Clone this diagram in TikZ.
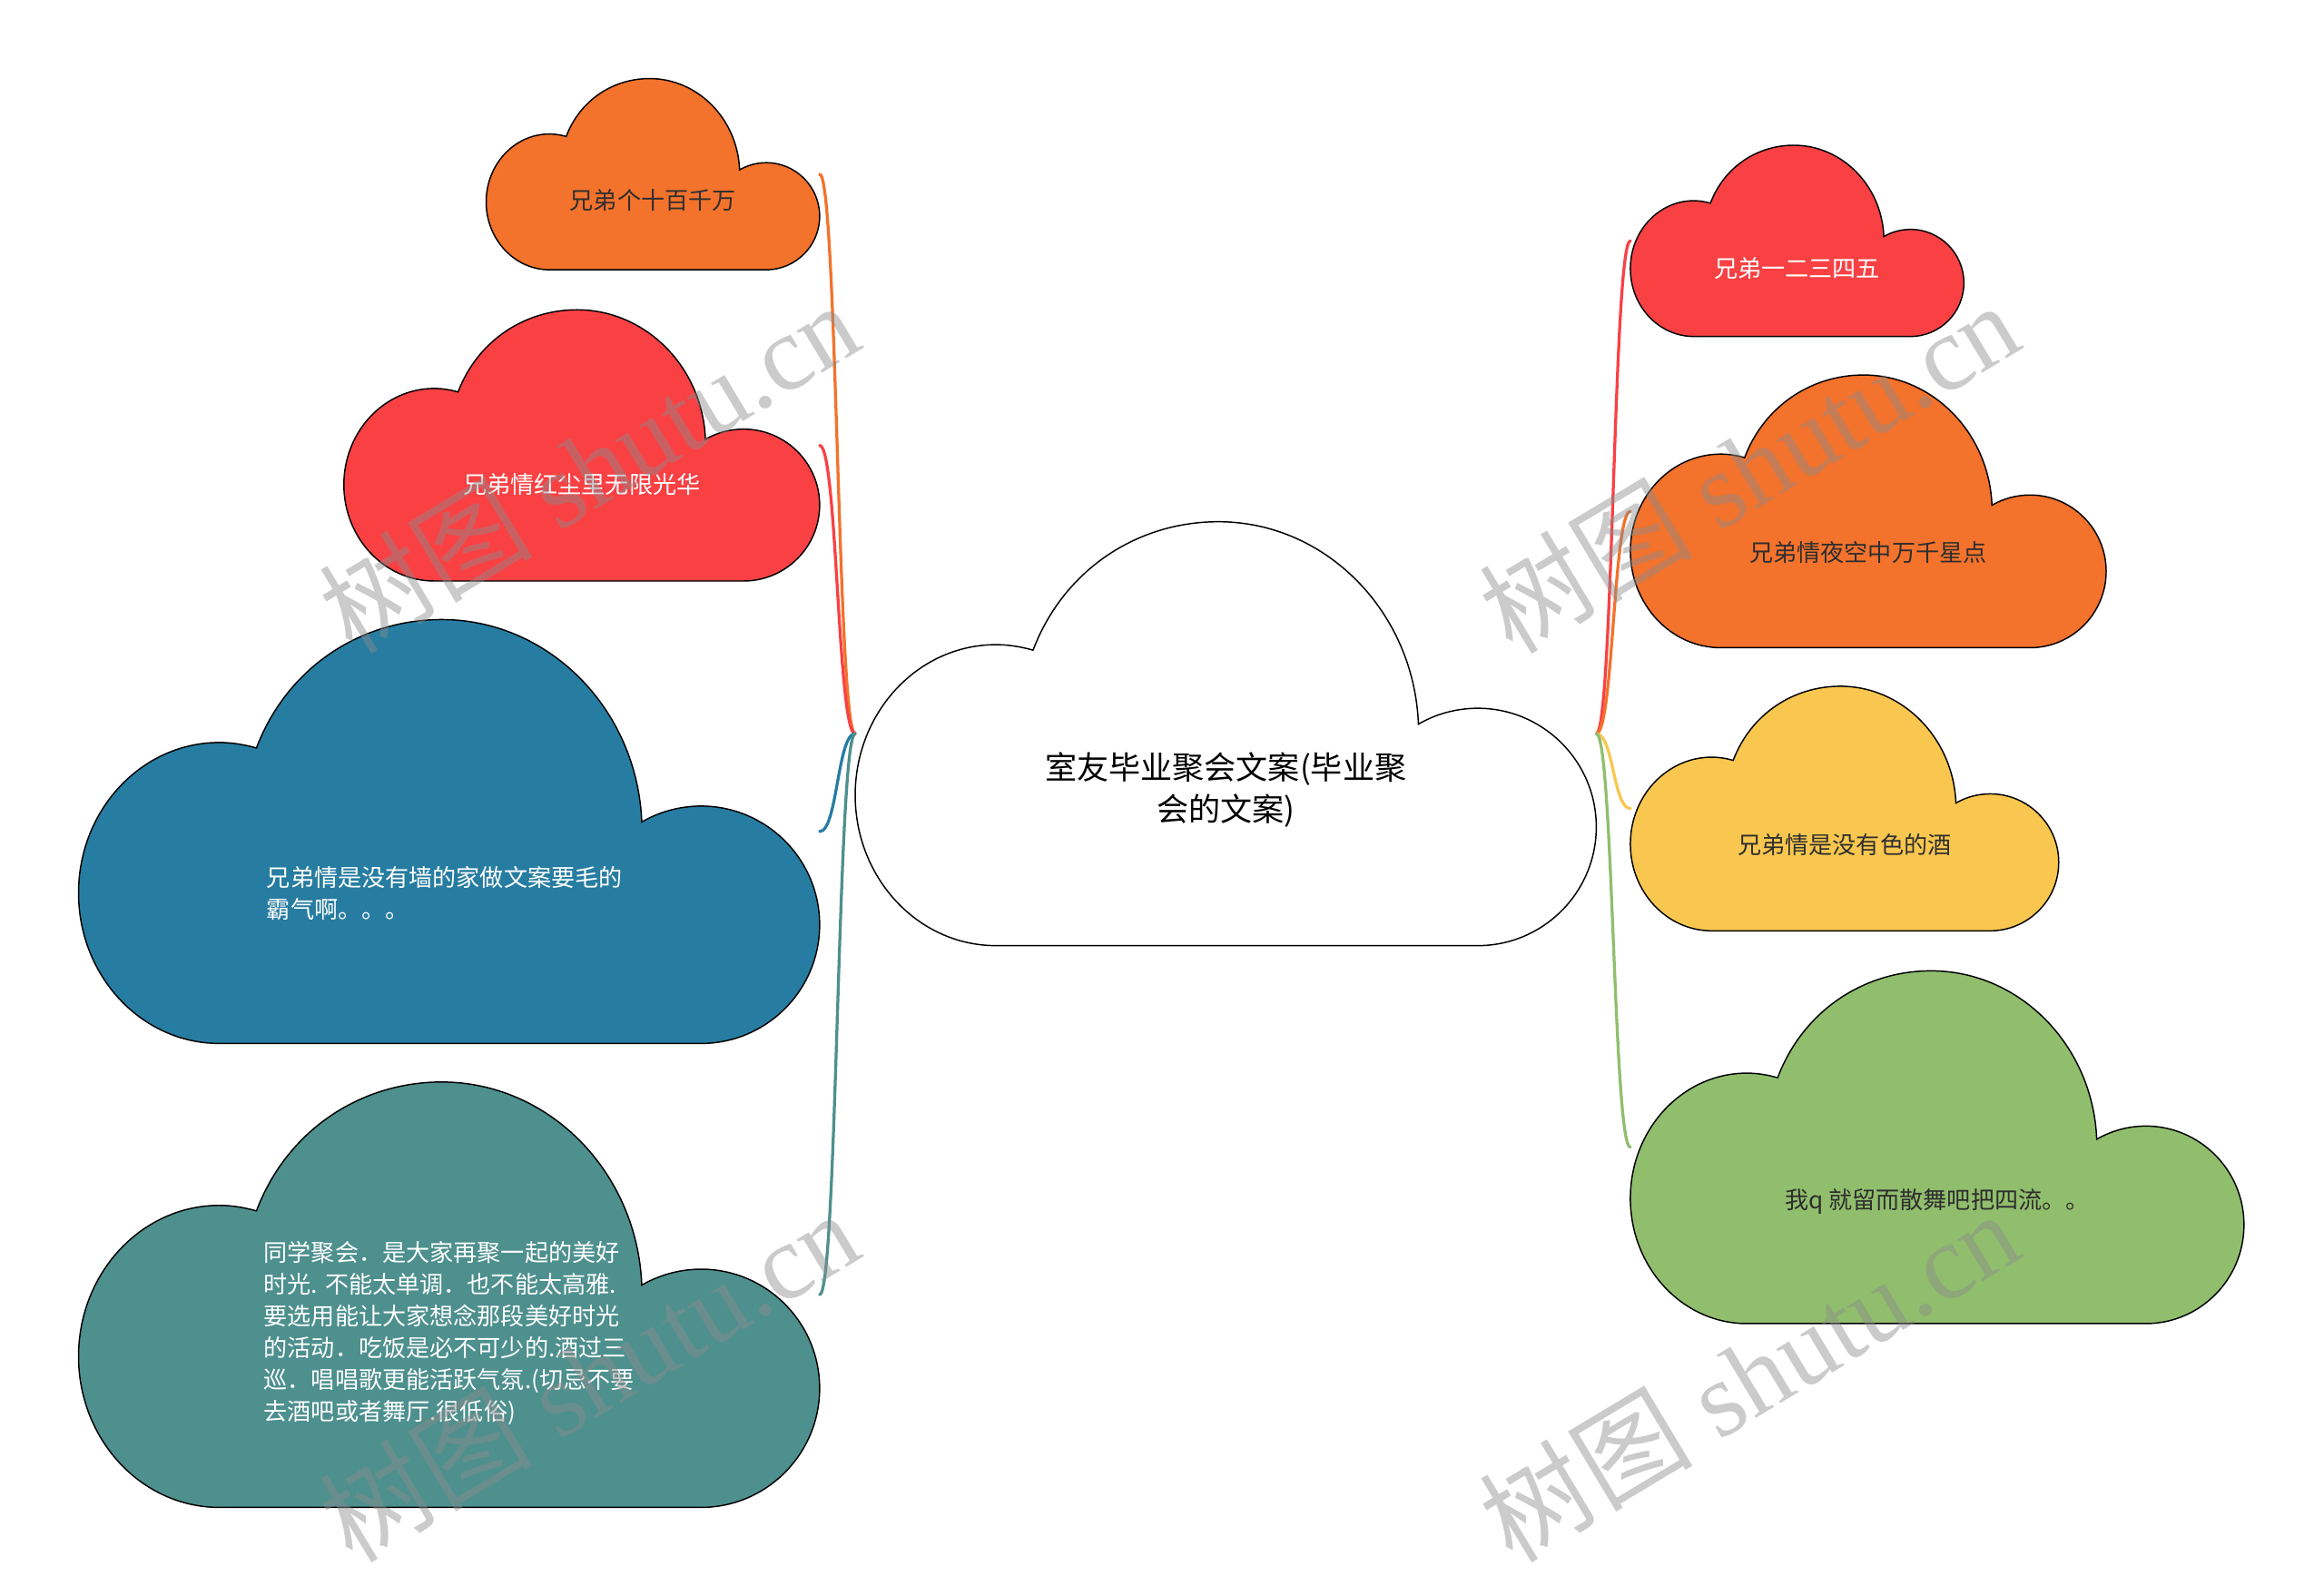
\documentclass[tikz,border=0pt]{standalone}
\usepackage{fontspec}
\setmainfont{Noto Sans CJK SC}
\newfontfamily\wmcjk{Noto Sans CJK SC}
\newfontfamily\wmlat{Liberation Serif}
\usetikzlibrary{calc}
\definecolor{cred}{HTML}{F94144}
\definecolor{corange}{HTML}{F3722C}
\definecolor{cyellow}{HTML}{F9C74F}
\definecolor{cgreen}{HTML}{90BE6D}
\definecolor{cteal}{HTML}{4D908E}
\definecolor{cblue}{HTML}{277DA1}
\definecolor{ctext}{HTML}{2E2E2E}
\tikzset{
  box/.style={draw=none, rectangle, inner sep=0pt, outer sep=0pt},
  cloudline/.style={draw=black, line width=0.9pt},
  lbl/.style={font=\fontsize{16}{21.4}\selectfont, inner sep=0pt, align=center},
  lblL/.style={font=\fontsize{16}{21.4}\selectfont, inner sep=0pt, align=left},
  mainlbl/.style={font=\fontsize{21.5}{28}\selectfont, inner sep=0pt, align=center, text=black},
  connline/.style={line width=2pt, line cap=round},
  wm/.style={font=\wmlat\fontsize{72}{72}\selectfont, text=black!45, text opacity=0.45, inner sep=0pt, rotate=31}
}
% cloud: name, x left, y top, width, height, fill
\newcommand\cloudnode[6]{%
  \node[box, minimum width=#4pt, minimum height=#5pt, anchor=north west] (#1) at (#2,#3) {};
  \begin{scope}[shift={(#1.south west)}, xscale=#4, yscale=-#5]
    \filldraw[cloudline, fill=#6] (0.19,0) .. controls (0.085,0) and (0,0.159) .. (0,0.355)
      .. controls (0,0.551) and (0.085,0.71) .. (0.19,0.71)
      .. controls (0.207,0.71) and (0.224,0.705) .. (0.24,0.697)
      .. controls (0.281,0.886) and (0.38,1) .. (0.49,1)
      .. controls (0.635,1) and (0.754,0.788) .. (0.76,0.5225)
      .. controls (0.784,0.547) and (0.812,0.56) .. (0.84,0.56)
      .. controls (0.928,0.56) and (1,0.435) .. (1,0.28)
      .. controls (1,0.125) and (0.928,0) .. (0.84,0) -- cycle;
  \end{scope}}
\newcommand\connect[3]{%
  \draw[connline, draw=#3] (#1) .. controls ($(#1)!0.5!(#1-|#2)$) and ($(#2)!0.5!(#1|-#2)$) .. (#2);}
\begin{document}
\begin{tikzpicture}[x=1pt, y=-1pt]
\useasboundingbox (0,0) rectangle (1568,1070);
\fill[white] (0,0) rectangle (1568,1070);

\cloudnode{C}{577}{352}{500}{286}{white}
\cloudnode{L1}{328}{53}{225}{129}{corange}
\cloudnode{L2}{232}{209}{321}{183}{cred}
\cloudnode{L3}{53}{418}{500}{286}{cblue}
\cloudnode{L4}{53}{730}{500}{287}{cteal}
\cloudnode{R1}{1100}{98}{225}{129}{cred}
\cloudnode{R2}{1100}{253}{321}{184}{corange}
\cloudnode{R3}{1100}{463}{289}{165}{cyellow}
\cloudnode{R4}{1100}{655}{414}{238}{cgreen}

\connect{C.west}{L1.east}{corange}
\connect{C.west}{L2.east}{cred}
\connect{C.west}{L3.east}{cblue}
\connect{C.west}{L4.east}{cteal}
\connect{C.east}{R1.west}{cred}
\connect{C.east}{R2.west}{corange}
\connect{C.east}{R3.west}{cyellow}
\connect{C.east}{R4.west}{cgreen}

\node[mainlbl] (Ct) at ($(C.north)!0.633!(C.south)$) {室友毕业聚会文案(毕业聚\\会的文案)};
\node[lbl, text=ctext] (L1t) at ($(L1.north)!0.636!(L1.south)$) {兄弟个十百千万};
\node[lbl, text=white] (L2t) at ($(L2.north)!0.645!(L2.south)$) {兄弟情红尘里无限光华};
\node[lblL, text=white] (L3t) at ($(L3.north)!0.645!(L3.south)+(-3,0)$) {兄弟情是没有墙的家做文案要毛的\\霸气啊。。。};
\node[lblL, text=white] (L4t) at ($(L4.north)!0.59!(L4.south)$) {同学聚会．是大家再聚一起的美好\\时光. 不能太单调．也不能太高雅.\\要选用能让大家想念那段美好时光\\的活动．吃饭是必不可少的.酒过三\\巡．唱唱歌更能活跃气氛.(切忌不要\\去酒吧或者舞厅.很低俗)};
\node[lbl, text=white] (R1t) at ($(R1.north)!0.643!(R1.south)$) {兄弟一二三四五};
\node[lbl, text=ctext] (R2t) at ($(R2.north)!0.652!(R2.south)$) {兄弟情夜空中万千星点};
\node[lbl, text=ctext] (R3t) at ($(R3.north)!0.648!(R3.south)$) {兄弟情是没有色的酒};
\node[lbl, text=ctext] (R4t) at ($(R4.north)!0.655!(R4.south)$) {我q 就留而散舞吧把四流。。};

\node[wm] (w1) at (397,315) {{\wmcjk 树图} shutu.cn};
\node[wm] (w2) at (397,928) {{\wmcjk 树图} shutu.cn};
\node[wm] (w3) at (1180,315) {{\wmcjk 树图} shutu.cn};
\node[wm] (w4) at (1180,928) {{\wmcjk 树图} shutu.cn};
\end{tikzpicture}
\end{document}
